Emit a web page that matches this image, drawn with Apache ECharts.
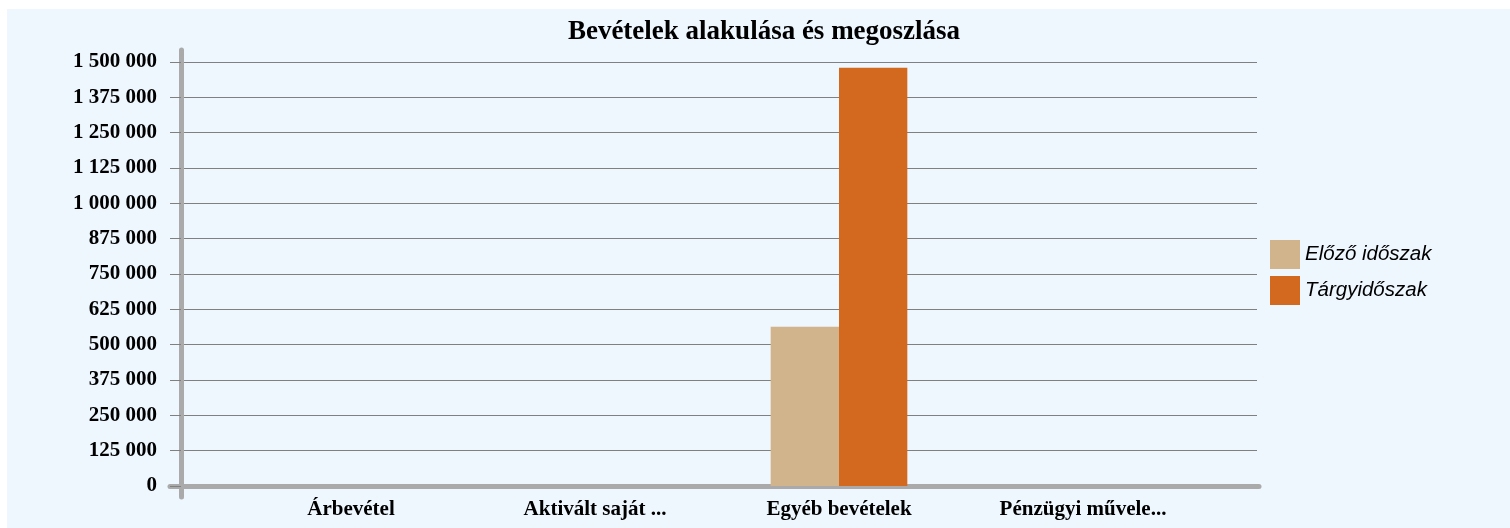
<!DOCTYPE html>
<html><head><meta charset="utf-8">
<script src="https://cdn.jsdelivr.net/npm/echarts@6/dist/echarts.min.js"></script>
<style>
html,body{margin:0;padding:0;background:#fff;}
#wrap{position:relative;width:1510px;height:528px;}
#bg{position:absolute;left:7px;top:9px;right:0;bottom:0;background:#EEF6FE;}
#c{position:absolute;left:0;top:0;width:1510px;height:528px;}
</style></head>
<body><div id="wrap"><div id="bg"></div><div id="c"></div></div>
<script>
const title = 'Bevételek alakulása és megoszlása';
const categories = ['Árbevétel', 'Aktivált saját ...', 'Egyéb bevételek', 'Pénzügyi művele...'];
const seriesNames = ['Előző időszak', 'Tárgyidőszak'];
const prevValues = [0, 0, 563000, 0];
const currValues = [0, 0, 1480000, 0];
const yMin = 0, yMax = 1500000, yStep = 125000;

const fmt = v => String(v).replace(/\B(?=(\d{3})+(?!\d))/g, ' ');
const serif = '"Liberation Serif", "Times New Roman", serif';
const hidden = {show:false};
const chart = echarts.init(document.getElementById('c'));
chart.setOption({
  animation:false,
  backgroundColor:'transparent',
  title:{text:title,left:759,textAlign:'center',top:14,textStyle:{fontFamily:serif,fontWeight:'bold',fontSize:27,color:'#000'}},
  legend:{orient:'vertical',left:1265,top:235,itemWidth:30,itemHeight:29,itemGap:7,
    icon:'rect',textStyle:{fontFamily:'"Liberation Sans", Arial, sans-serif',fontStyle:'italic',fontSize:20.5,color:'#000'},
    data:seriesNames},
  grid:[
    {left:229,right:305,top:62,bottom:42},
    {left:181,right:253,top:62,bottom:42},
    {left:181,width:1,top:50,bottom:31},
    {left:170,right:251,top:62,bottom:42}
  ],
  xAxis:[
    {type:'category',gridIndex:0,data:categories,axisLine:hidden,axisTick:hidden,
      axisLabel:{margin:13,fontFamily:serif,fontWeight:'bold',fontSize:21,color:'#000'}},
    {type:'category',gridIndex:1,data:categories,show:false},
    {type:'value',gridIndex:2,show:false},
    {type:'category',gridIndex:3,data:categories,axisLine:{show:true,lineStyle:{color:'#aaa',width:5,cap:'round'}},
      axisTick:hidden,axisLabel:hidden}
  ],
  yAxis:[
    {type:'value',gridIndex:0,min:yMin,max:yMax,interval:yStep,show:false},
    {type:'value',gridIndex:1,min:yMin,max:yMax,interval:yStep,
      axisLine:hidden,axisTick:{show:true,length:11,lineStyle:{color:'#808080',width:1}},
      splitLine:{show:true,lineStyle:{color:'#808080',width:1}},
      axisLabel:{margin:24,formatter:fmt,fontFamily:serif,fontWeight:'bold',fontSize:21,color:'#000'}},
    {type:'value',gridIndex:2,axisLine:{show:true,lineStyle:{color:'#aaa',width:5,cap:'round'}},
      axisTick:hidden,axisLabel:hidden,splitLine:hidden},
    {type:'value',gridIndex:3,show:false}
  ],
  series:[
    {name:seriesNames[0],type:'bar',xAxisIndex:0,yAxisIndex:0,data:prevValues,barWidth:'28%',barGap:'0%',
      itemStyle:{color:'#D2B48C'}},
    {name:seriesNames[1],type:'bar',xAxisIndex:0,yAxisIndex:0,data:currValues,barWidth:'28%',barGap:'0%',
      itemStyle:{color:'#D2691E'}}
  ]
});
</script></body></html>
